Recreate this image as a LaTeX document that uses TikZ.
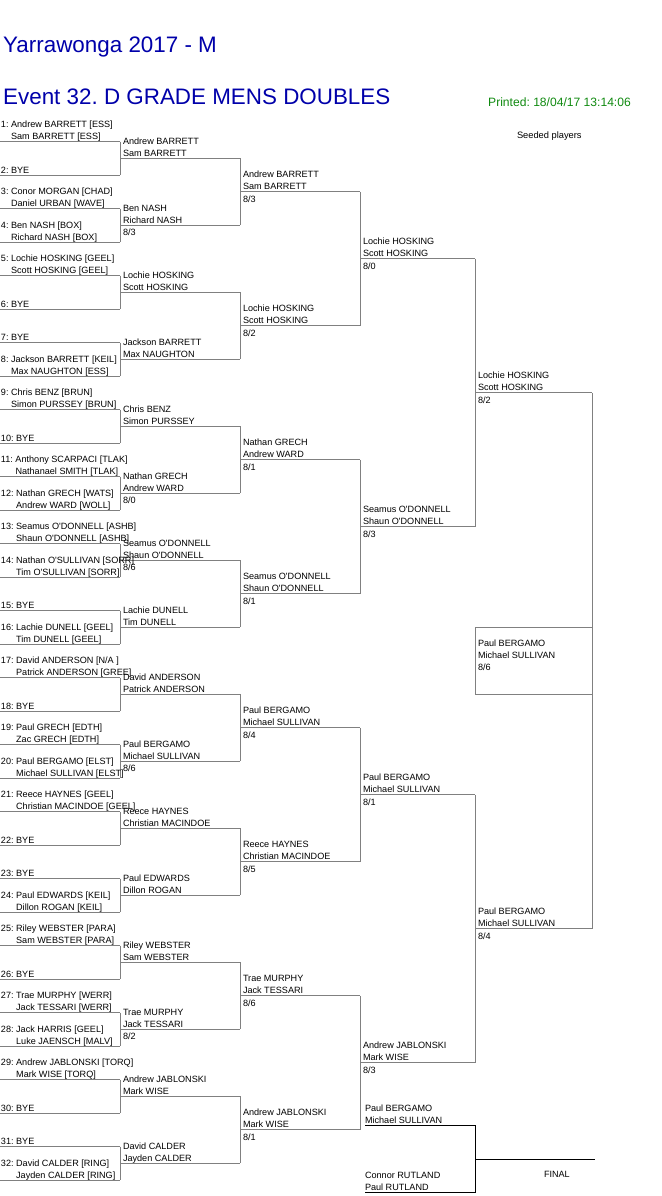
\documentclass[tikz,border=0pt]{standalone}
\usepackage{fontspec}
\setmainfont{Liberation Sans}[Ligatures=TeXOff]
\definecolor{lin}{HTML}{808080}
\definecolor{ttl}{HTML}{0000AA}
\definecolor{prt}{HTML}{108A10}
\tikzset{
  nm/.style={anchor=base west, inner sep=0pt, outer sep=0pt, font=\fontsize{9.1}{10}\selectfont, text=black},
  br/.style={draw=lin, line width=1pt},
  fl/.style={draw=black, line width=1pt},
  ttlstyle/.style={anchor=base west, inner sep=0pt, text=ttl, font=\fontsize{22.4}{24}\selectfont},
}
\frenchspacing
% first-round entry: index, first player, second player
\newcommand\Rone[3]{%
  \pgfmathsetmacro\yy{141.5+(#1-1)*33.5}%
  \node[nm] (p#1a) at (1,{\yy-14}) {#1: #2};
  \node[nm] (p#1b) at (1,{\yy-2}) {\phantom{#1: }#3};
}
\newcommand\Rbye[1]{%
  \pgfmathsetmacro\yy{141.5+(#1-1)*33.5}%
  \node[nm] (p#1a) at (1,{\yy-2}) {#1: BYE};
}
% winner: name, x of line start, y of line, player 1, player 2, score
\newcommand\Win[6]{%
  \node[nm] (#1a) at ({#2+3},{#3-14}) {#4};
  \node[nm] (#1b) at ({#2+3},{#3-2}) {#5};
  \node[nm] (#1c) at ({#2+3},{#3+10.5}) {#6};
}
\begin{document}
\frenchspacing
\begin{tikzpicture}[x=1pt,y=-1pt]
\useasboundingbox[fill=white] (0,0) rectangle (661,1196);

% titles
\node[ttlstyle] (t1) at (3,53) {Yarrawonga 2017 - M};
\node[ttlstyle] (t2) at (3,105) {Event 32. D GRADE MENS DOUBLES};
\node[anchor=base west, inner sep=0pt, text=prt, font=\fontsize{12.1}{14}\selectfont] (t3) at (488,106.5) {Printed: 18/04/17 13:14:06};
\node[nm, font=\fontsize{9.3}{10}\selectfont] (t4) at (517,138.5) {Seeded players};

% bracket lines
\foreach \i in {1,...,32} {
  \coordinate (a\i) at (0,{141.5+(\i-1)*33.5});
  \draw[br] (a\i) -- ++(120,0);
}
\foreach \k in {1,...,16} {
  \pgfmathtruncatemacro\u{2*\k-1}\pgfmathtruncatemacro\v{2*\k}
  \draw[br] ([xshift=120pt]a\u) -- ([xshift=120pt]a\v);
  \coordinate (b\k) at (120,{158.25+(\k-1)*67});
  \draw[br] (b\k) -- ++(120,0);
}
\foreach \k in {1,...,8} {
  \pgfmathtruncatemacro\u{2*\k-1}\pgfmathtruncatemacro\v{2*\k}
  \draw[br] ([xshift=120pt]b\u) -- ([xshift=120pt]b\v);
  \coordinate (c\k) at (240,{191.75+(\k-1)*134});
  \draw[br] (c\k) -- ++(120,0);
}
\foreach \k in {1,...,4} {
  \pgfmathtruncatemacro\u{2*\k-1}\pgfmathtruncatemacro\v{2*\k}
  \draw[br] ([xshift=120pt]c\u) -- ([xshift=120pt]c\v);
  \coordinate (d\k) at (360,{258.75+(\k-1)*268});
  \draw[br] (d\k) -- ++(115,0);
}
\foreach \k in {1,2} {
  \pgfmathtruncatemacro\u{2*\k-1}\pgfmathtruncatemacro\v{2*\k}
  \draw[br] ([xshift=115pt]d\u) -- ([xshift=115pt]d\v);
  \coordinate (e\k) at (475,{392.75+(\k-1)*536});
  \draw[br] (e\k) -- ++(117,0);
}
\draw[br] ([xshift=117pt]e1) -- ([xshift=117pt]e2);
\draw[br] (475,627.3) rectangle (592,694.3);

% round 1
\Rone{1}{Andrew BARRETT [ESS]}{Sam BARRETT [ESS]}
\Rbye{2}
\Rone{3}{Conor MORGAN [CHAD]}{Daniel URBAN [WAVE]}
\Rone{4}{Ben NASH [BOX]}{Richard NASH [BOX]}
\Rone{5}{Lochie HOSKING [GEEL]}{Scott HOSKING [GEEL]}
\Rbye{6}
\Rbye{7}
\Rone{8}{Jackson BARRETT [KEIL]}{Max NAUGHTON [ESS]}
\Rone{9}{Chris BENZ [BRUN]}{Simon PURSSEY [BRUN]}
\Rbye{10}
\Rone{11}{Anthony SCARPACI [TLAK]}{Nathanael SMITH [TLAK]}
\Rone{12}{Nathan GRECH [WATS]}{Andrew WARD [WOLL]}
\Rone{13}{Seamus O'DONNELL [ASHB]}{Shaun O'DONNELL [ASHB]}
\Rone{14}{Nathan O'SULLIVAN [SORR]}{Tim O'SULLIVAN [SORR]}
\Rbye{15}
\Rone{16}{Lachie DUNELL [GEEL]}{Tim DUNELL [GEEL]}
\Rone{17}{David ANDERSON [N/A ]}{Patrick ANDERSON [GREE]}
\Rbye{18}
\Rone{19}{Paul GRECH [EDTH]}{Zac GRECH [EDTH]}
\Rone{20}{Paul BERGAMO [ELST]}{Michael SULLIVAN [ELST]}
\Rone{21}{Reece HAYNES [GEEL]}{Christian MACINDOE [GEEL]}
\Rbye{22}
\Rbye{23}
\Rone{24}{Paul EDWARDS [KEIL]}{Dillon ROGAN [KEIL]}
\Rone{25}{Riley WEBSTER [PARA]}{Sam WEBSTER [PARA]}
\Rbye{26}
\Rone{27}{Trae MURPHY [WERR]}{Jack TESSARI [WERR]}
\Rone{28}{Jack HARRIS [GEEL]}{Luke JAENSCH [MALV]}
\Rone{29}{Andrew JABLONSKI [TORQ]}{Mark WISE [TORQ]}
\Rbye{30}
\Rbye{31}
\Rone{32}{David CALDER [RING]}{Jayden CALDER [RING]}

% round 2
\Win{q1}{120}{158.25}{Andrew BARRETT}{Sam BARRETT}{}
\Win{q2}{120}{225.25}{Ben NASH}{Richard NASH}{8/3}
\Win{q3}{120}{292.25}{Lochie HOSKING}{Scott HOSKING}{}
\Win{q4}{120}{359.25}{Jackson BARRETT}{Max NAUGHTON}{}
\Win{q5}{120}{426.25}{Chris BENZ}{Simon PURSSEY}{}
\Win{q6}{120}{493.25}{Nathan GRECH}{Andrew WARD}{8/0}
\Win{q7}{120}{560.25}{Seamus O'DONNELL}{Shaun O'DONNELL}{8/6}
\Win{q8}{120}{627.25}{Lachie DUNELL}{Tim DUNELL}{}
\Win{q9}{120}{694.25}{David ANDERSON}{Patrick ANDERSON}{}
\Win{q10}{120}{761.25}{Paul BERGAMO}{Michael SULLIVAN}{8/6}
\Win{q11}{120}{828.25}{Reece HAYNES}{Christian MACINDOE}{}
\Win{q12}{120}{895.25}{Paul EDWARDS}{Dillon ROGAN}{}
\Win{q13}{120}{962.25}{Riley WEBSTER}{Sam WEBSTER}{}
\Win{q14}{120}{1029.25}{Trae MURPHY}{Jack TESSARI}{8/2}
\Win{q15}{120}{1096.25}{Andrew JABLONSKI}{Mark WISE}{}
\Win{q16}{120}{1163.25}{David CALDER}{Jayden CALDER}{}

% round 3
\Win{r1}{240}{191.75}{Andrew BARRETT}{Sam BARRETT}{8/3}
\Win{r2}{240}{325.75}{Lochie HOSKING}{Scott HOSKING}{8/2}
\Win{r3}{240}{459.75}{Nathan GRECH}{Andrew WARD}{8/1}
\Win{r4}{240}{593.75}{Seamus O'DONNELL}{Shaun O'DONNELL}{8/1}
\Win{r5}{240}{727.75}{Paul BERGAMO}{Michael SULLIVAN}{8/4}
\Win{r6}{240}{861.75}{Reece HAYNES}{Christian MACINDOE}{8/5}
\Win{r7}{240}{995.75}{Trae MURPHY}{Jack TESSARI}{8/6}
\Win{r8}{240}{1129.75}{Andrew JABLONSKI}{Mark WISE}{8/1}

% round 4
\Win{s1}{360}{258.75}{Lochie HOSKING}{Scott HOSKING}{8/0}
\Win{s2}{360}{526.75}{Seamus O'DONNELL}{Shaun O'DONNELL}{8/3}
\Win{s3}{360}{794.75}{Paul BERGAMO}{Michael SULLIVAN}{8/1}
\Win{s4}{360}{1062.75}{Andrew JABLONSKI}{Mark WISE}{8/3}

% round 5
\Win{u1}{475}{392.75}{Lochie HOSKING}{Scott HOSKING}{8/2}
\Win{u2}{475}{928.75}{Paul BERGAMO}{Michael SULLIVAN}{8/4}

% champion
\node[nm] (w1) at (478,646.7) {Paul BERGAMO};
\node[nm] (w2) at (478,658.7) {Michael SULLIVAN};
\node[nm] (w3) at (478,670.7) {8/6};

% final
\node[nm] (f1) at (365,1111.7) {Paul BERGAMO};
\node[nm] (f2) at (365,1123.7) {Michael SULLIVAN};
\node[nm] (f3) at (365,1178.7) {Connor RUTLAND};
\node[nm] (f4) at (365,1190.5) {Paul RUTLAND};
\node[nm] (f5) at (544,1177.7) {FINAL};
\coordinate (g1) at (365,1125.3);
\coordinate (g2) at (475,1125.3);
\coordinate (g3) at (475,1192.3);
\coordinate (g4) at (365,1192.3);
\coordinate (g5) at (475,1159);
\coordinate (g6) at (595,1159);
\draw[fl] (g1) -- (g2) -- (g3) -- (g4);
\draw[fl] (g5) -- (g6);
\end{tikzpicture}
\end{document}
